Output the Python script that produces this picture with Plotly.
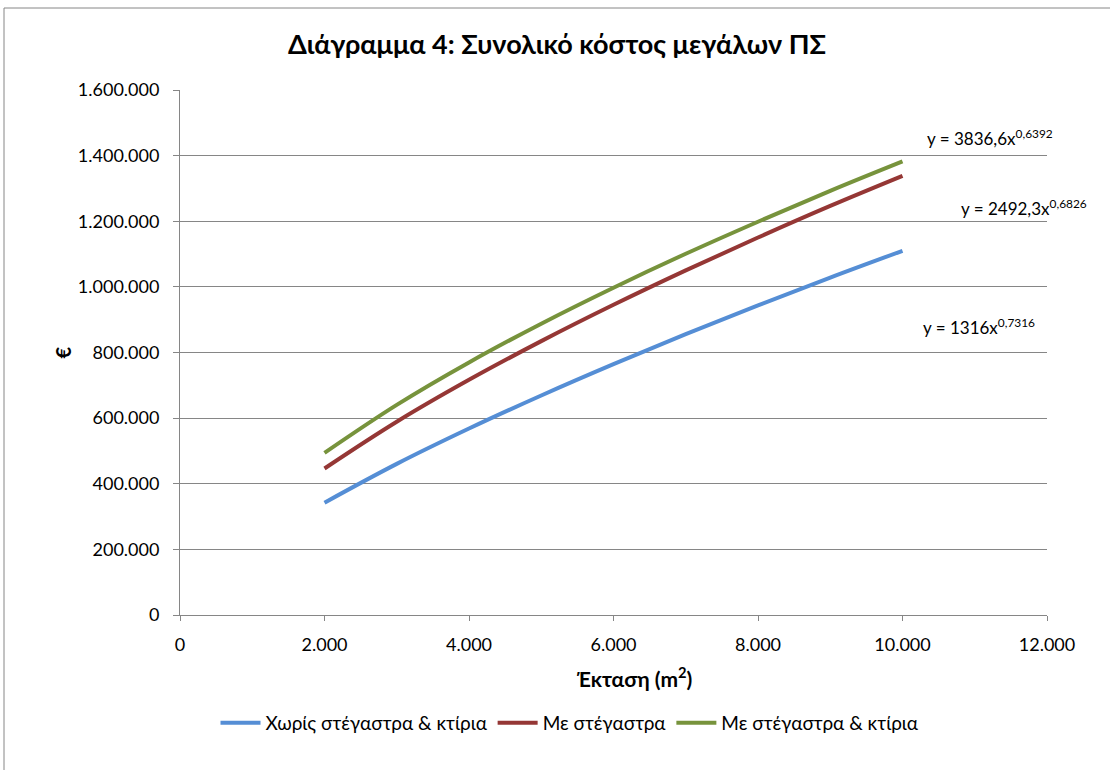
import plotly.graph_objects as go

area_m2 = [2000, 3000, 4000, 5000, 6000, 7000, 8000, 9000, 10000]
cost_no_shelter = [342300, 460500, 568200, 669000, 764500, 855800, 943500, 1028400, 1110000]
cost_shelter = [446600, 589000, 716700, 834600, 945300, 1050200, 1150500, 1246800, 1338400]
cost_shelter_buildings = [494300, 640500, 769800, 887800, 997500, 1100900, 1198600, 1292600, 1382300]

series_names = ["Χωρίς στέγαστρα & κτίρια", "Με στέγαστρα", "Με στέγαστρα & κτίρια"]
series_colors = ["#558ED5", "#953735", "#77933C"]
equations = ["y = 3836,6x<sup>0,6392</sup>", "y = 2492,3x<sup>0,6826</sup>", "y = 1316x<sup>0,7316</sup>"]

FONT = "Lato"

fig = go.Figure()
for name, vals, col in zip(series_names, [cost_no_shelter, cost_shelter, cost_shelter_buildings], series_colors):
    fig.add_trace(go.Scatter(x=area_m2, y=vals, mode="lines", name=name,
                             line=dict(color=col, width=4, shape="spline")))

W, H = 1110, 770
L, R, T, B = 180, 63, 90, 155
pw, ph = W - L - R, H - T - B

def px(x):
    return (x - L) / pw

def py(y):
    return (H - B - y) / ph

fig.update_layout(
    width=W, height=H,
    margin=dict(l=L, r=R, t=T, b=B),
    paper_bgcolor="white", plot_bgcolor="white",
    separators=",.",
    font=dict(family=FONT, size=18, color="#000000"),
    title=dict(text="<b>Διάγραμμα 4: Συνολικό κόστος μεγάλων ΠΣ</b>",
               x=557 / W, xref="container", xanchor="center", y=1 - 45 / H, yanchor="middle",
               font=dict(family=FONT, size=27, color="#000000")),
    showlegend=True,
    legend=dict(orientation="h", x=px(570), xanchor="center", y=py(723), yanchor="middle",
                font=dict(family=FONT, size=19), bgcolor="rgba(0,0,0,0)", itemwidth=40,
                entrywidth=0),
    xaxis=dict(range=[0, 12000], dtick=2000, tickformat=",d", showgrid=False,
               showline=True, linecolor="#868686", linewidth=1,
               ticks="outside", ticklen=5, tickcolor="#868686", ticklabelstandoff=8,
               tickfont=dict(family=FONT, size=18), zeroline=False),
    yaxis=dict(range=[0, 1600000], dtick=200000, tickformat=",d", showgrid=True,
               gridcolor="#868686", gridwidth=1,
               showline=True, linecolor="#868686", linewidth=1,
               ticks="outside", ticklen=6, tickcolor="#868686", ticklabelstandoff=10,
               tickfont=dict(family=FONT, size=18), zeroline=False),
)

annotations = [
    dict(text="<b>€</b>", x=px(62), y=0.5, textangle=-90, font=dict(size=20)),
    dict(text="<b>Έκταση (m<sup>2</sup>)</b>", x=px(634), y=py(677), font=dict(size=21)),
    dict(text=equations[0], x=px(925), y=py(137), xanchor="left", font=dict(size=17)),
    dict(text=equations[1], x=px(959), y=py(207), xanchor="left", font=dict(size=17)),
    dict(text=equations[2], x=px(921), y=py(326), xanchor="left", font=dict(size=17)),
]
for a in annotations:
    a.setdefault("xanchor", "center")
    a.update(xref="paper", yref="paper", showarrow=False, yanchor="middle")
    fig.add_annotation(**a)

fig.add_shape(type="rect", xref="paper", yref="paper",
              x0=px(4), x1=px(1114), y0=py(775), y1=py(8),
              line=dict(color="#868686", width=1), fillcolor="rgba(0,0,0,0)", layer="below")

fig.write_html("out.html", config={"displayModeBar": False},
               post_script="document.body.style.margin='0px';")
